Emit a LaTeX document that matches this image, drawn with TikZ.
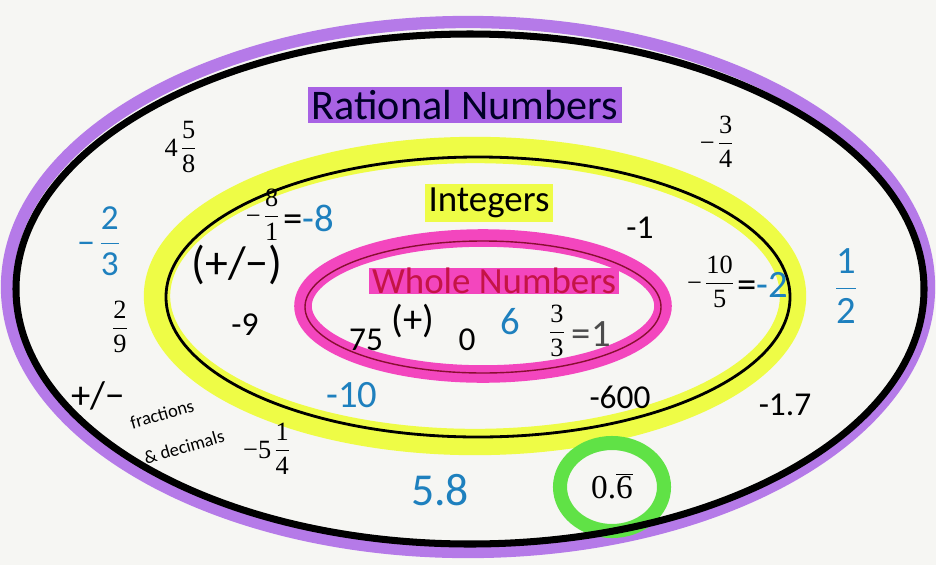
\documentclass[tikz,border=0pt]{standalone}
\usepackage{fontspec}
\setmainfont{Carlito}
\newfontfamily\timesfont{Liberation Serif}
\usetikzlibrary{positioning}
\definecolor{paper}{RGB}{246,246,243}
\definecolor{hlpurple}{RGB}{168,98,228}
\definecolor{hlyellow}{RGB}{238,252,70}
\definecolor{hlpink}{RGB}{243,70,190}
\definecolor{hlgreen}{RGB}{96,226,70}
\definecolor{inkblue}{RGB}{30,128,190}
\definecolor{wholered}{RGB}{196,20,70}
% stacked fraction, printed style
\newcommand{\vfrac}[2]{\begin{tabular}{@{}c@{}}#1\\[1pt]\hline\noalign{\vskip 3pt}#2\end{tabular}}

\begin{document}
\begin{tikzpicture}[x=0.02cm, y=-0.02cm,
    num/.style={font=\fontsize{19}{22}\selectfont},
    frc/.style={font=\timesfont\fontsize{15}{15}\selectfont, inner sep=1pt},
    ink/.style={text=inkblue, font=\fontsize{22}{24}\selectfont},
    hand/.style={font=\fontsize{22}{24}\selectfont},
    note/.style={font=\fontsize{10.5}{12}\selectfont, rotate=16, inner sep=0pt},
    title/.style={font=\fontsize{24}{28}\selectfont, inner sep=2pt}]
  \useasboundingbox[fill=paper] (0,0) rectangle (936,565);
  % highlighter bands
  \draw[hlpurple!85, line width=7pt] (468,287) ellipse [x radius=461, y radius=265];
  \draw[hlyellow, line width=15pt] (475,296) ellipse [x radius=318, y radius=146];
  \draw[hlpink, line width=10pt] (483,306) ellipse [x radius=180, y radius=68];
  \draw[hlgreen, line width=8pt] (612,487) ellipse [x radius=52, y radius=44];
  % set boundaries
  \draw[black, line width=4pt] (470,289) ellipse [x radius=454, y radius=255];
  \draw[black, line width=1.6pt] (478,297) ellipse [x radius=312, y radius=140];
  \draw[wholered!70!black, line width=0.8pt] (483,307) ellipse [x radius=178, y radius=66];
  % set names
  \node[title, fill=hlpurple, text=black!85!blue] (rat) at (465,105) {Rational Numbers};
  \node[title, fill=hlyellow, font=\fontsize{21}{24}\selectfont] (int) at (489,203) {Integers};
  \node[title, fill=hlpink, text=wholered, font=\fontsize{21}{24}\selectfont, inner ysep=0pt] (whole) at (494,281) {Whole Numbers};
  % rational numbers
  \node[frc] (f458) at (180,150) {4\,\vfrac{5}{8}};
  \node[frc] (f34) at (716,145) {−\,\vfrac{3}{4}};
  \node[ink, font=\fontsize{20}{22}\selectfont] (f23) at (98,245) {−\,\vfrac{2}{3}};
  \node[ink, font=\fontsize{22}{24}\selectfont] (f12) at (846,290) {\vfrac{1}{2}};
  \node[frc] (f29) at (120,330) {\vfrac{2}{9}};
  \node[num] (n17) at (785,405) {-1.7};
  \node[frc] (f514) at (266,452) {−5\,\vfrac{1}{4}};
  \node[ink, font=\fontsize{26}{28}\selectfont] (n58) at (440,490) {5.8};
  \node[font=\timesfont\fontsize{19}{22}\selectfont] (n06) at (612,486) {0.$\overline{\mbox{6}}$};
  \node[hand] (pmfd) at (98,396) {+/−};
  \node[note] (fr) at (162,414) {fractions};
  \node[note] (dec) at (184,447) {\& decimals};
  % integers
  \node[hand, font=\fontsize{26}{28}\selectfont] (pm) at (237,265) {(+/−)};
  \node[frc] (f81) at (262,218) {−\,\vfrac{8}{1}};
  \node[ink, right=-2pt of f81] (n8) {\textcolor{black}{=}-8};
  \node[num] (n1) at (640,228) {-1};
  \node[frc] (f105) at (710,285) {−\,\vfrac{10}{5}};
  \node[ink, right=-2pt of f105] (n2) {\textcolor{black}{=}-2};
  \node[num] (n9) at (245,325) {-9};
  \node[ink] (n10) at (352,395) {-10};
  \node[num] (n600) at (620,397) {-600};
  % whole numbers
  \node[hand, inner sep=0pt] (p) at (413,321) {(+)};
  \node[num] (n75) at (366,340) {75};
  \node[num] (n0) at (467,340) {0};
  \node[ink] (n6) at (510,322) {6};
  \node[frc] (f33) at (557,334) {\vfrac{3}{3}};
  \node[hand, text=black!70, right=0pt of f33] (n11) {=1};
\end{tikzpicture}
\end{document}
